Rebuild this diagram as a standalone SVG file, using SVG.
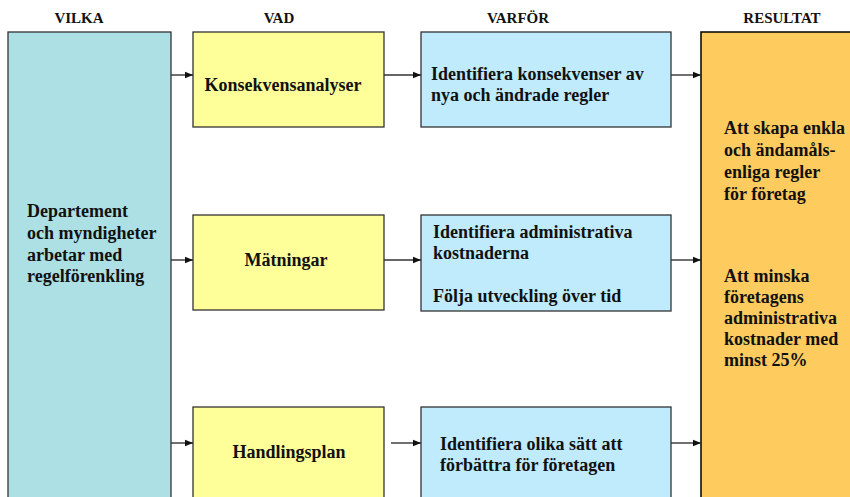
<svg xmlns="http://www.w3.org/2000/svg" width="850" height="497" viewBox="0 0 850 497">
<style>
text{font-family:"Liberation Serif","Times New Roman",serif;font-weight:bold;fill:#111}
.h{font-size:15px;text-anchor:middle}
.b{font-size:18px}
.c{text-anchor:middle}
.box{stroke:#333;stroke-width:1.3}
.cn{stroke:#333;stroke-width:1.4;fill:none;marker-end:url(#ah)}
</style>
<defs>
<marker id="ah" viewBox="0 0 8 8" refX="8" refY="4" markerWidth="8" markerHeight="8" markerUnits="userSpaceOnUse" orient="auto">
<path d="M0,0.8 L8,4 L0,7.2 Z" fill="#111"/>
</marker>
</defs>
<g id="headers">
<text class="h" x="79" y="23">VILKA</text>
<text class="h" x="279" y="23">VAD</text>
<text class="h" x="518" y="23">VARFÖR</text>
<text class="h" x="782" y="23">RESULTAT</text>
</g>
<g id="vilka">
<rect class="box" x="8" y="32" width="163" height="470" fill="#ADE0E4"/>
<text class="b" x="27" y="217">Departement</text>
<text class="b" x="27" y="239">och myndigheter</text>
<text class="b" x="27" y="261">arbetar med</text>
<text class="b" x="27" y="282">regelförenkling</text>
</g>
<g id="vad1">
<rect class="box" x="193" y="32" width="191" height="95" fill="#FFFF99"/>
<text class="b c" x="283" y="91">Konsekvensanalyser</text>
</g>
<g id="vad2">
<rect class="box" x="193" y="215" width="191" height="95" fill="#FFFF99"/>
<text class="b c" x="286" y="266">Mätningar</text>
</g>
<g id="vad3">
<rect class="box" x="193" y="407" width="191" height="95" fill="#FFFF99"/>
<text class="b c" x="289" y="458">Handlingsplan</text>
</g>
<g id="varfor1">
<rect class="box" x="421" y="32" width="250" height="95" fill="#BFEBFD"/>
<text class="b" x="431" y="80">Identifiera konsekvenser av</text>
<text class="b" x="431" y="101">nya och ändrade regler</text>
</g>
<g id="varfor2">
<rect class="box" x="421" y="215" width="250" height="96" fill="#BFEBFD"/>
<text class="b" x="433" y="238">Identifiera administrativa</text>
<text class="b" x="433" y="259">kostnaderna</text>
<text class="b" x="433" y="302">Följa utveckling över tid</text>
</g>
<g id="varfor3">
<rect class="box" x="421" y="407" width="250" height="95" fill="#BFEBFD"/>
<text class="b" x="440" y="450">Identifiera olika sätt att</text>
<text class="b" x="440" y="471">förbättra för företagen</text>
</g>
<g id="resultat">
<rect x="701" y="32" width="160" height="470" fill="#FECB5E" stroke="#000" stroke-width="1.5"/>
<text class="b" x="724" y="134">Att skapa enkla</text>
<text class="b" x="724" y="156">och ändamåls-</text>
<text class="b" x="724" y="178">enliga regler</text>
<text class="b" x="724" y="200">för företag</text>
<text class="b" x="724" y="282">Att minska</text>
<text class="b" x="724" y="303">företagens</text>
<text class="b" x="724" y="324">administrativa</text>
<text class="b" x="724" y="345">kostnader med</text>
<text class="b" x="724" y="366">minst 25%</text>
</g>
<g id="connectors">
<line class="cn" x1="171" y1="75" x2="193" y2="75"/>
<line class="cn" x1="384" y1="75" x2="421" y2="75"/>
<line class="cn" x1="671" y1="75" x2="701" y2="75"/>
<line class="cn" x1="171" y1="260" x2="193" y2="260"/>
<line class="cn" x1="384" y1="260" x2="421" y2="260"/>
<line class="cn" x1="671" y1="260" x2="701" y2="260"/>
<line class="cn" x1="171" y1="443" x2="193" y2="443"/>
<line class="cn" x1="391" y1="443" x2="421" y2="443"/>
<line class="cn" x1="671" y1="443" x2="701" y2="443"/>
</g>
</svg>
